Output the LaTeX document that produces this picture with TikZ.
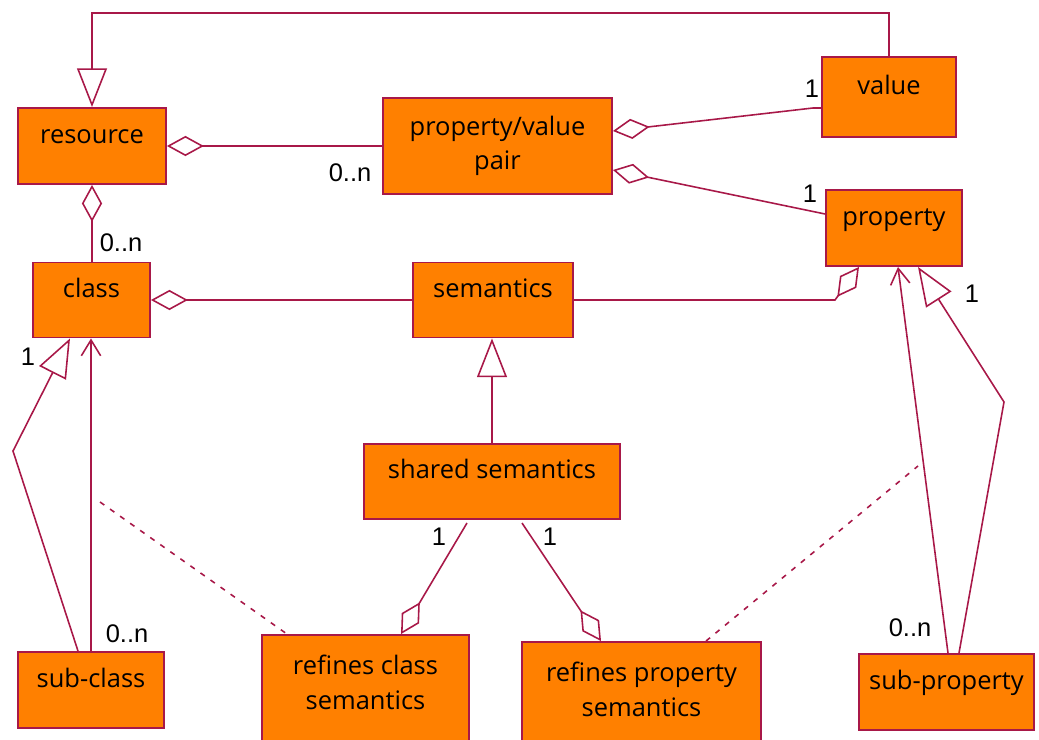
\documentclass[tikz,border=0pt]{standalone}
\usepackage{fontspec}
\setmainfont{Open Sans}
\newfontfamily\cardfont{Liberation Sans}
\usetikzlibrary{arrows.meta}
\definecolor{naranja}{RGB}{255,128,0}
\definecolor{granate}{RGB}{168,24,72}
\tikzset{
  caja/.style={draw=granate, fill=naranja, line width=1.1pt, align=center,
    font=\fontsize{14.5}{19.5}\selectfont, text height=11pt, text depth=14pt},
  caja2/.style={caja, text height={}, text depth={}},
  agreg/.style={draw=granate, line width=0.9pt, arrows={Diamond[open,length=21pt,width=11.5pt]-}},
  hereda/.style={draw=granate, line width=0.9pt, arrows={-Triangle[open,length=22pt,width=17pt]}},
  flecha/.style={draw=granate, line width=0.9pt, arrows={-Straight Barb[length=9pt,width=11pt]}},
  punteada/.style={draw=granate, line width=0.9pt, dash pattern=on 3pt off 4pt},
  card/.style={font=\cardfont\fontsize{14.5}{16}\selectfont, inner sep=0pt}
}
\begin{document}
\begin{tikzpicture}[x=0.02cm, y=-0.02cm]
        \useasboundingbox (0,0) rectangle (1039,740);
        % Pintar cajas
        \node[caja, minimum width=2.68cm, minimum height=1.60cm] (value) at (889,97) {value};
        \node[caja2, minimum width=4.58cm, minimum height=1.92cm] (pair) at (497.5,146) {property/value\\pair};
        \node[caja, minimum width=2.96cm, minimum height=1.52cm] (resource) at (92,146) {resource};
        \node[caja, minimum width=2.72cm, minimum height=1.52cm] (property) at (894,228) {property};
        \node[caja, minimum width=2.34cm, minimum height=1.50cm] (class) at (91.5,300) {class};
        \node[caja, minimum width=3.20cm, minimum height=1.50cm] (semantics) at (493,300) {semantics};
        \node[caja, minimum width=5.12cm, minimum height=1.50cm] (shared) at (492,481.5) {shared semantics};
        \node[caja, minimum width=2.92cm, minimum height=1.52cm] (subclass) at (91,690) {sub-class};
        \node[caja2, text depth=10pt, minimum width=4.14cm, minimum height=2.24cm] (refclass) at (365.5,691) {refines class\\semantics};
        \node[caja2, text depth=10pt, minimum width=4.78cm, minimum height=2.24cm] (refprop) at (641.5,698) {refines property\\semantics};
        \node[caja, minimum width=3.50cm, minimum height=1.52cm] (subprop) at (946.5,692) {sub-property};
        % Conectores
        \coordinate (arriba) at (0,13);
        \draw[hereda] (value.north) -- (value.north |- arriba) -- (resource.north |- arriba) -- (resource.north);
        \draw[agreg] (resource.east) -- (resource.east -| pair.west);
        \draw[agreg] (resource.south) -- (resource.south |- class.north);
        \draw[agreg] (pair.east |- 0,131) -- (813,108) -- (value.west |- 0,108);
        \draw[agreg] (pair.east |- 0,170) -- (property.west |- 0,214);
        \draw[agreg] (class.east) -- (class.east -| semantics.west);
        \draw[agreg] (859,0 |- property.south) -- (835,0 |- semantics.east) -- (semantics.east);
        \draw[hereda] (shared.north) -- (shared.north |- semantics.south);
        \draw[hereda] (78,0 |- subclass.north) -- (13,451) -- (70,0 |- class.south);
        \draw[flecha] (subclass.north) -- (subclass.north |- class.south);
        \draw[agreg] (401,0 |- refclass.north) -- (467,523);
        \draw[agreg] (601,0 |- refprop.north) -- (522,523);
        \draw[punteada] (100,502) -- (287,0 |- refclass.north);
        \draw[punteada] (706,0 |- refprop.north) -- (918,466);
        \draw[flecha] (948,0 |- subprop.north) -- (898,0 |- property.south);
        \draw[hereda] (959,0 |- subprop.north) -- (1004,402) -- (918,0 |- property.south);
        % Multiplicidades
        \node[card] (m1) at (350,173) {0..n};
        \node[card] (m2) at (121,243) {0..n};
        \node[card] (m3) at (812,89) {1};
        \node[card] (m4) at (810,194) {1};
        \node[card] (m5) at (28,357) {1};
        \node[card] (m6) at (127,634) {0..n};
        \node[card] (m7) at (439,537) {1};
        \node[card] (m8) at (550,537) {1};
        \node[card] (m9) at (972,294) {1};
        \node[card] (m10) at (910,628) {0..n};
    \end{tikzpicture}
\end{document}
